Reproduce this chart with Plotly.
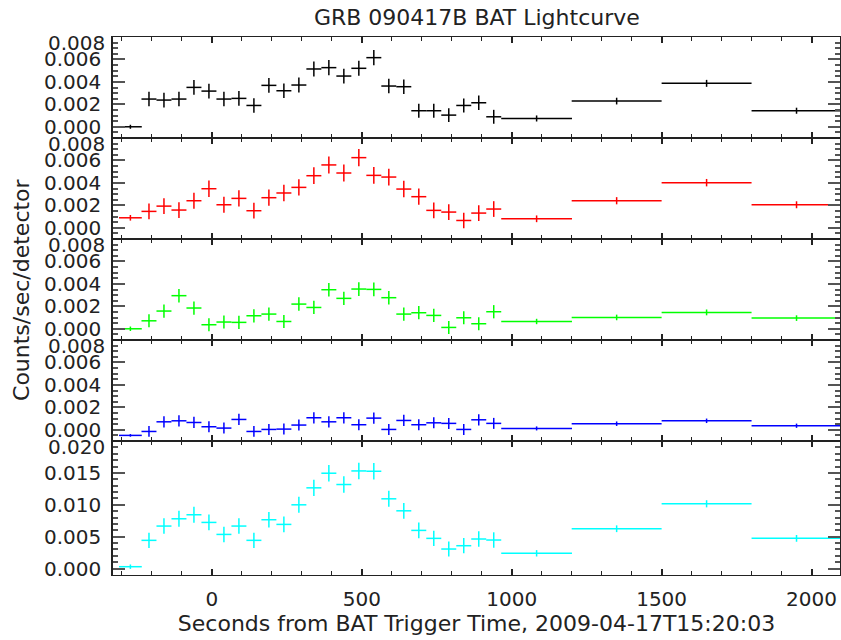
import plotly.graph_objects as go
from plotly.subplots import make_subplots

# ---- data ----
time_center = [-272, -210, -160, -110, -60, -10, 40, 90, 140, 190, 240, 290, 340,
               390, 440, 490, 540, 590, 640, 690, 740, 790, 840, 890, 940,
               1083, 1350, 1650, 1950]
time_halfwidth = [38, 25, 25, 25, 25, 25, 25, 25, 25, 25, 25, 25, 25,
                  25, 25, 25, 25, 25, 25, 25, 25, 25, 25, 25, 25,
                  118, 150, 150, 150]

rate_15_25 = [0.0000, 0.00247, 0.00238, 0.00247, 0.00351, 0.00318, 0.00247, 0.00253,
              0.00190, 0.00369, 0.00321, 0.00372, 0.00515, 0.00527, 0.00452, 0.00521,
              0.00616, 0.00363, 0.00357, 0.00143, 0.00143, 0.00104, 0.00190, 0.00214,
              0.00089, 0.00074, 0.00229, 0.00387, 0.00143]
err_15_25 = [0.00018, 0.00065, 0.00066, 0.00065, 0.00066, 0.00066, 0.00065, 0.00066,
             0.00064, 0.00066, 0.00065, 0.00066, 0.00067, 0.00067, 0.00066, 0.00067,
             0.00068, 0.00065, 0.00065, 0.00063, 0.00063, 0.00062, 0.00063, 0.00064,
             0.00062, 0.00027, 0.00030, 0.00031, 0.00027]

rate_25_50 = [0.00089, 0.00146, 0.00193, 0.00158, 0.00241, 0.00348, 0.00205, 0.00262,
              0.00152, 0.00268, 0.00310, 0.00360, 0.00464, 0.00560, 0.00488, 0.00625,
              0.00467, 0.00452, 0.00345, 0.00277, 0.00155, 0.00140, 0.00065, 0.00131,
              0.00167, 0.00080, 0.00241, 0.00402, 0.00205]
err_25_50 = [0.00025, 0.00070, 0.00071, 0.00070, 0.00072, 0.00073, 0.00071, 0.00072,
             0.00070, 0.00072, 0.00073, 0.00073, 0.00075, 0.00076, 0.00075, 0.00077,
             0.00075, 0.00075, 0.00073, 0.00072, 0.00070, 0.00070, 0.00069, 0.00070,
             0.00070, 0.00030, 0.00032, 0.00033, 0.00031]

rate_50_100 = [0.0000, 0.00071, 0.00158, 0.00295, 0.00185, 0.00036, 0.00060, 0.00057,
               0.00116, 0.00131, 0.00065, 0.00220, 0.00190, 0.00348, 0.00271, 0.00354,
               0.00351, 0.00277, 0.00131, 0.00143, 0.00119, 0.00012, 0.00098, 0.00045,
               0.00152, 0.00065, 0.00101, 0.00146, 0.00095]
err_50_100 = [0.00020, 0.00058, 0.00059, 0.00060, 0.00059, 0.00058, 0.00058, 0.00058,
              0.00059, 0.00059, 0.00058, 0.00060, 0.00059, 0.00061, 0.00060, 0.00061,
              0.00061, 0.00060, 0.00059, 0.00059, 0.00059, 0.00058, 0.00058, 0.00058,
              0.00059, 0.00024, 0.00025, 0.00026, 0.00025]

rate_100_350 = [-0.00050, -0.00015, 0.00071, 0.00080, 0.00065, 0.00027, 0.00015, 0.00092,
                -0.00015, 0.00003, 0.00006, 0.00042, 0.00107, 0.00071, 0.00107, 0.00045,
                0.00104, 0.00003, 0.00083, 0.00045, 0.00062, 0.00057, 0.00003, 0.00089,
                0.00057, 0.00012, 0.00054, 0.00080, 0.00036]
err_100_350 = [0.00012, 0.00048, 0.00050, 0.00050, 0.00050, 0.00049, 0.00049, 0.00050,
               0.00048, 0.00049, 0.00049, 0.00049, 0.00050, 0.00050, 0.00050, 0.00049,
               0.00050, 0.00049, 0.00050, 0.00049, 0.00049, 0.00049, 0.00049, 0.00050,
               0.00049, 0.00018, 0.00020, 0.00020, 0.00019]

rate_15_350 = [0.0003, 0.00443, 0.00667, 0.00781, 0.00844, 0.00724, 0.00536, 0.00667,
               0.00443, 0.00766, 0.00693, 0.01000, 0.01266, 0.01495, 0.01318, 0.01531,
               0.01526, 0.01094, 0.00906, 0.00599, 0.00474, 0.00307, 0.00359, 0.00464,
               0.00448, 0.00240, 0.00625, 0.01016, 0.00474]
err_15_350 = [0.00035, 0.00120, 0.00122, 0.00124, 0.00125, 0.00123, 0.00121, 0.00122,
              0.00120, 0.00123, 0.00122, 0.00125, 0.00127, 0.00129, 0.00128, 0.00129,
              0.00129, 0.00126, 0.00124, 0.00122, 0.00121, 0.00119, 0.00120, 0.00121,
              0.00121, 0.00050, 0.00053, 0.00056, 0.00053]

bands = [rate_15_25, rate_25_50, rate_50_100, rate_100_350, rate_15_350]
band_errs = [err_15_25, err_25_50, err_50_100, err_100_350, err_15_350]
band_colors = ["#000000", "#ff0000", "#00ff00", "#0000ff", "#00ffff"]

y_ranges = [[-0.001, 0.008], [-0.001, 0.008], [-0.001, 0.008], [-0.001, 0.008], [-0.001, 0.020]]
y_tickvals = [[0, 0.002, 0.004, 0.006]] * 4 + [[0, 0.005, 0.010, 0.015]]
y_ticktext = [["0.000", "0.002", "0.004", "0.006"]] * 4 + [["0.000", "0.005", "0.010", "0.015"]]
y_top_label = ["0.008", "0.008", "0.008", "0.008", "0.020"]
y_minor = [0.0005, 0.0005, 0.0005, 0.0005, 0.001]

x_range = [-330, 2095]
x_tickvals = [0, 500, 1000, 1500, 2000]

title_text = "GRB 090417B BAT Lightcurve"
xtitle_text = "Seconds from BAT Trigger Time, 2009-04-17T15:20:03"
ytitle_text = "Counts/sec/detector"

FONT = "DejaVu Sans"
TXT = "#222222"
TICK_SIZE = 20
TITLE_SIZE = 22

fig = make_subplots(rows=5, cols=1, shared_xaxes=True, vertical_spacing=0,
                    row_heights=[101, 101, 101, 101, 134])

for i, (vals, errs, col) in enumerate(zip(bands, band_errs, band_colors)):
    fig.add_trace(go.Scatter(
        x=time_center, y=vals, mode="markers",
        marker=dict(size=1, color=col, opacity=0),
        error_x=dict(type="data", array=time_halfwidth, width=0, thickness=1.5, color=col),
        error_y=dict(type="data", array=errs, width=0, thickness=1.5, color=col),
        showlegend=False, hoverinfo="skip",
    ), row=i + 1, col=1)

    fig.update_yaxes(
        range=y_ranges[i], tickvals=y_tickvals[i], ticktext=y_ticktext[i],
        ticks="inside", ticklen=12, tickwidth=1.5, tickcolor="#555555",
        minor=dict(dtick=y_minor[i], tick0=0, ticks="inside", ticklen=5,
                   tickwidth=1.5, tickcolor="#555555"),
        showline=True, linecolor="#222222", linewidth=1.5, mirror="allticks",
        showgrid=False, zeroline=False, automargin=False,
        tickfont=dict(family=FONT, size=TICK_SIZE, color=TXT), ticklabelstandoff=6,
        row=i + 1, col=1)

    fig.update_xaxes(
        range=x_range, tickvals=x_tickvals,
        ticks="inside", ticklen=6, tickwidth=1.5, tickcolor="#222222",
        minor=dict(dtick=100, tick0=0, ticks="inside", ticklen=4,
                   tickwidth=1.2, tickcolor="#222222"),
        showline=True, linecolor="#222222", linewidth=1.2, mirror="allticks",
        showgrid=False, zeroline=False, automargin=False,
        tickfont=dict(family=FONT, size=TICK_SIZE, color=TXT),
        row=i + 1, col=1)

    # top tick label of each panel, nudged down like the reference
    yref = "y domain" if i == 0 else f"y{i + 1} domain"
    fig.add_annotation(xref="paper", yref=yref, x=0, y=1, text=y_top_label[i],
                       showarrow=False, xanchor="right", yanchor="middle",
                       xshift=-6, yshift=-6,
                       font=dict(family=FONT, size=TICK_SIZE, color=TXT))

fig.update_xaxes(showticklabels=True, ticklabelstandoff=6,
                 title=dict(text=xtitle_text, font=dict(family=FONT, size=TITLE_SIZE, color=TXT),
                            standoff=0),
                 row=5, col=1)

fig.add_annotation(xref="paper", yref="paper", x=-0.125, y=0.53, text=ytitle_text,
                   textangle=-90, showarrow=False, xanchor="center", yanchor="middle",
                   font=dict(family=FONT, size=TITLE_SIZE, color=TXT))

fig.update_layout(
    width=841, height=640,
    margin=dict(l=113, r=1, t=37, b=65, autoexpand=False),
    paper_bgcolor="white", plot_bgcolor="white",
    title=dict(text=title_text, x=0.567, xanchor="center", y=1 - 17 / 640, yanchor="middle",
               font=dict(family=FONT, size=TITLE_SIZE, color=TXT), automargin=False),
)

fig.write_html("out.html", config={"displayModeBar": False},
               post_script="document.body.style.margin='0';document.body.style.padding='0';")
